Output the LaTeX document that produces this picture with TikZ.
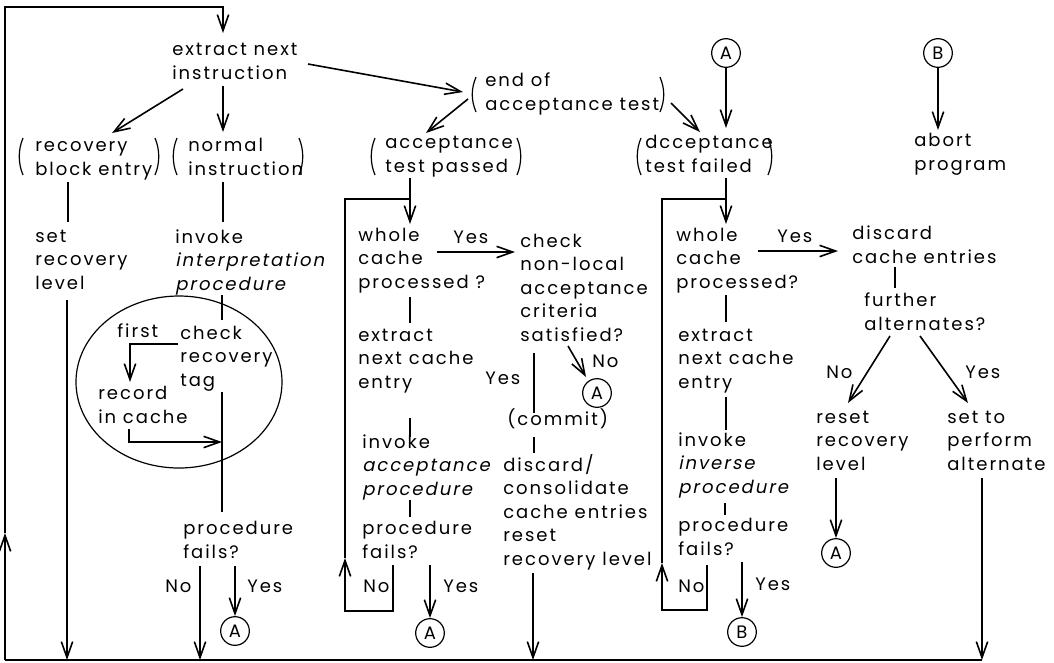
\documentclass[tikz,border=0pt]{standalone}
\usepackage{fontspec}
\setmainfont{Poppins}[LetterSpace=11]
\newfontfamily\slfam{Poppins}[FakeSlant=0.2,LetterSpace=11]
\usetikzlibrary{arrows.meta}
\begin{document}
\begin{tikzpicture}[x=0.75pt,y=-0.75pt,
  txt/.style={anchor=base west,inner sep=0pt,align=left,font=\fontsize{13.5pt}{17.6pt}\selectfont},
  conn/.style={circle,draw,line width=0.9pt,minimum size=21.5pt,inner sep=0pt,font=\fontsize{13.5pt}{17.6pt}\selectfont},
  ln/.style={line width=1.2pt},
  arr/.style={line width=1.2pt,-{Straight Barb[length=12pt,width=8.5pt,line width=1.2pt]}},
  par/.style={line width=0.9pt}]
\fill[white] (0,0) rectangle (1054,662);
\useasboundingbox (0,0) rectangle (1054,662);

% ---------- text nodes (anchored at baseline of their last line) ----------
\node[txt] (ext) at (172,79) {extract next\\instruction};
\node[txt] (rbe) at (35,175) {recovery\\block entry};
\node[txt] (ni) at (188,175) {normal\\instruction};
\node[txt] (srl) at (35,289) {set\\recovery\\level};
\node[txt] (iip) at (175,290) {invoke\\{\slfam interpretation}\\{\slfam procedure}};
\node[txt] (first) at (117,337) {first};
\node[txt] (crt) at (180,386) {check\\recovery\\tag};
\node[txt] (ric) at (98,423) {record\\in cache};
\node[txt] (pf1) at (183,558) {procedure\\fails?};
\node[txt] (no1) at (165,592) {No};
\node[txt] (yes1) at (247,592) {Yes};

\node[txt] (eat) at (485,110) {end of\\acceptance test};
\node[txt] (atp) at (385,172) {acceptance\\test passed};
\node[txt] (atf) at (645,172) {dcceptance\\test failed};
\node[txt] (abort) at (914,170) {abort\\program};

\node[txt] (wcp1) at (358,288) {whole\\cache\\processed ?};
\node[txt] (yes2) at (453,243) {Yes};
\node[txt] (chk) at (520,341) {check\\non-local\\acceptance\\criteria\\satisfied?};
\node[txt] (no2) at (592,367) {No};
\node[txt] (yes3) at (485,384) {Yes};
\node[txt] (commit) at (507,425) {(commit)};
\node[txt] (ence1) at (358,388) {extract\\next cache\\entry};
\node[txt] (iap) at (362,495) {invoke\\{\slfam acceptance}\\{\slfam procedure}};
\node[txt] (pf2) at (362,558) {procedure\\fails?};
\node[txt] (no3) at (363,592) {No};
\node[txt] (yes4) at (443,592) {Yes};
\node[txt] (dcr) at (503,565) {discard/\\consolidate\\cache entries\\reset\\recovery level};

\node[txt] (wcp2) at (676,288) {whole\\cache\\processed?};
\node[txt] (yes5) at (777,242) {Yes};
\node[txt] (dce) at (852,263) {discard\\cache entries};
\node[txt] (fa) at (864,330) {further\\alternates?};
\node[txt] (no4) at (826,378) {No};
\node[txt] (yes6) at (965,378) {Yes};
\node[txt] (rrl) at (816,470) {reset\\recovery\\level};
\node[txt] (stp) at (947,470) {set to\\perform\\alternate};
\node[txt] (ence2) at (678,388) {extract\\next cache\\entry};
\node[txt] (iip2) at (678,493) {invoke\\{\slfam inverse}\\{\slfam procedure}};
\node[txt] (pf3) at (678,555) {procedure\\fails?};
\node[txt] (no5) at (678,592) {No};
\node[txt] (yes7) at (755,590) {Yes};

% ---------- connector circles ----------
\node[conn] (cAt) at (726,53) {A};
\node[conn] (cBt) at (938,53) {B};
\node[conn] (cA1) at (235,631) {A};
\node[conn] (cA2) at (430,633) {A};
\node[conn] (cA3) at (597,393) {A};
\node[conn] (cA4) at (836,553) {A};
\node[conn] (cB1) at (742,632) {B};

% ---------- parentheses ----------
\foreach \x/\t/\b in {20/138/175, 174/138/175, 473/77/112, 372/138/175, 638/138/175}
  \draw[par] (\x+3,\t) .. controls (\x-2,\t+12) and (\x-2,\b-12) .. (\x+3,\b);
\foreach \x/\t/\b in {158/138/175, 302/138/175, 663/77/112, 520/138/175, 771/138/175}
  \draw[par] (\x-3,\t) .. controls (\x+2,\t+12) and (\x+2,\b-12) .. (\x-3,\b);

% ---------- ellipse ----------
\draw[line width=0.9pt] (179,382) ellipse [x radius=77.25pt, y radius=64.5pt];

% ---------- outer loop and bottom bus ----------
\coordinate (bl) at (5,660);
\coordinate (br) at (982,660);
\coordinate (lup) at (5,533);
\coordinate (tl) at (5,7);
\coordinate (tr) at (223,7);
\draw[ln] (bl) -- (br);
\draw[arr] (bl) -- (lup);
\draw[arr] (lup) -- (tl) -- (tr) -- (223,33);

% ---------- left part ----------
\draw[arr] (223,86) -- (223,132);
\draw[arr] (183,89) -- (112,133);
\draw[arr] (308,64) -- (463,92);
\draw[ln] (68,182) -- (68,222);
\draw[ln] (223,182) -- (223,222);
\draw[arr] (67,300) -- (67,660);
\draw[ln] (222,295) -- (222,320);
\draw[arr] (178,344) -- (130,344) -- (130,382);
\draw[arr] (129,429) -- (129,442) -- (222,442);
\draw[ln] (222,392) -- (222,512);
\draw[arr] (200,566) -- (200,660);
\draw[arr] (235,566) -- (cA1.north);

% ---------- middle part ----------
\draw[arr] (468,99) -- (426,133);
\draw[arr] (671,103) -- (700,132);
\draw[arr] (cAt.south) -- (726,128);
\draw[arr] (cBt.south) -- (938,130);
\draw[arr] (410,178) -- (410,224);
\draw[arr] (393,565) -- (393,611) -- (345,611) -- (345,558);
\draw[ln] (345,558) -- (345,199) -- (410,199);
\draw[arr] (437,252) -- (515,252);
\draw[ln] (410,297) -- (410,323);
\draw[ln] (410,418) -- (410,437);
\draw[ln] (410,500) -- (410,517);
\draw[arr] (430,565) -- (cA2.north);
\draw[arr] (568,346) -- (586,377);
\draw[ln] (534,353) -- (534,413);
\draw[ln] (534,437) -- (534,453);
\draw[arr] (533,573) -- (533,660);

% ---------- right part ----------
\draw[arr] (726,178) -- (726,224);
\draw[arr] (707,565) -- (707,610) -- (662,610) -- (662,563);
\draw[ln] (662,563) -- (662,199) -- (726,199);
\draw[arr] (758,251) -- (838,251);
\draw[ln] (726,295) -- (726,322);
\draw[ln] (726,397) -- (726,430);
\draw[ln] (725,503) -- (725,515);
\draw[arr] (742,562) -- (cB1.north);
\draw[ln] (895,267) -- (895,288);
\draw[arr] (890,336) -- (848,403);
\draw[arr] (920,336) -- (968,403);
\draw[arr] (836,478) -- (cA4.north);
\draw[arr] (982,478) -- (br);
\end{tikzpicture}
\end{document}
